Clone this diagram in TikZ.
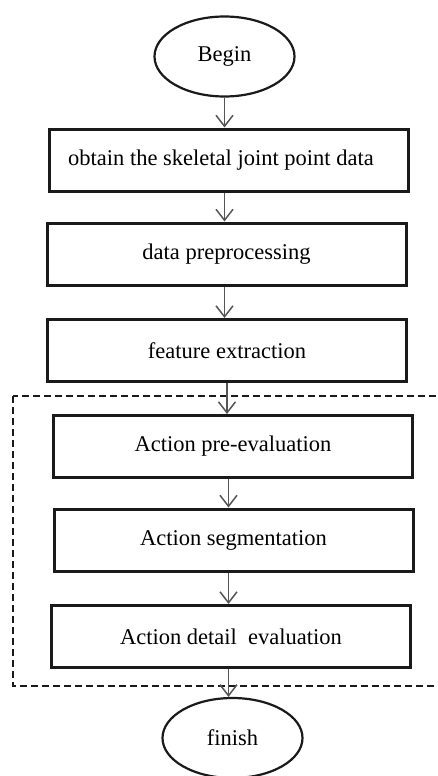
\documentclass[tikz,border=0pt]{standalone}
\usepackage{fontspec}
\setmainfont{Liberation Serif}
\usetikzlibrary{shapes.geometric,arrows.meta}
\definecolor{FCLine}{HTML}{1A1A1A}
\definecolor{FCArrow}{HTML}{555555}

\begin{document}
\begin{tikzpicture}[x=1pt,y=-1pt,
  stepbox/.style={draw=FCLine,line width=3pt,minimum width=359pt,minimum height=62pt,inner sep=0pt,
    font=\fontsize{22.5}{27}\selectfont},
  endpoint/.style={ellipse,draw=FCLine,line width=2.2pt,minimum width=140pt,minimum height=80pt,inner sep=0pt,
    font=\fontsize{22.5}{27}\selectfont},
  flow/.style={draw=FCArrow,line width=1.5pt,-{Straight Barb[length=11pt,width=17pt,line width=1.5pt]}}]
\path[use as bounding box] (0,0) rectangle (438,776);
% start and end of the chart
\node[endpoint] (begin) at (224.5,56.5) {Begin};
\node[endpoint] (finish) at (232.5,738) {finish};
% steps
\node[stepbox] (obtain) at (229,160) {\hspace*{-16pt}obtain the skeletal joint point data};
\node[stepbox] (prep) at (226.5,254) {data preprocessing};
\node[stepbox] (feat) at (227,350.5) {feature extraction};
\node[stepbox] (preeval) at (233,446.5) {Action pre-evaluation};
\node[stepbox] (segm) at (233.5,540) {Action segmentation};
\node[stepbox] (detail) at (231,636.5) {Action detail\ \ evaluation};
% evaluation block
\draw[FCLine,line width=2.2pt,dash pattern=on 7pt off 4pt] (13,396) rectangle (446,686);
% arrows
\coordinate (spine) at (228.5,0);
\draw[flow] (begin.south) -- (begin.south |- obtain.north);
\draw[flow] (obtain.south -| begin) -- (prep.north -| begin);
\draw[flow] (prep.south -| begin) -- (feat.north -| begin);
\draw[flow] (feat.south) -- (feat.south |- preeval.north);
\draw[flow] (preeval.south -| spine) -- (segm.north -| spine);
\draw[flow] (segm.south -| spine) -- (detail.north -| spine);
\draw[flow] (detail.south -| spine) -- (finish.north -| spine);
\end{tikzpicture}
\end{document}
